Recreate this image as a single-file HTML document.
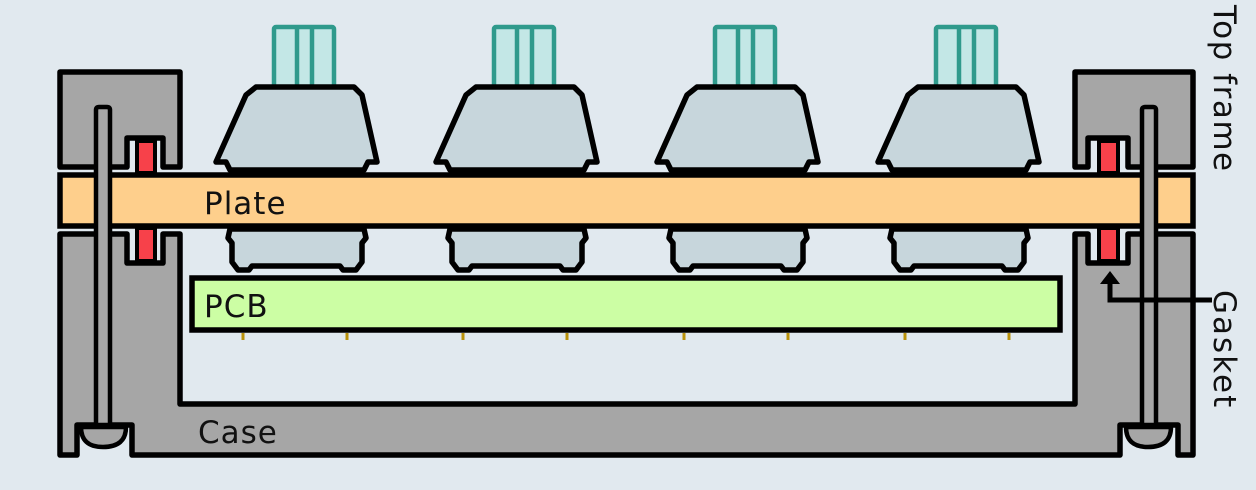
<!DOCTYPE html>
<html><head><meta charset="utf-8"><style>
html,body{margin:0;padding:0;background:#e1e9ef;}
svg{display:block}
text{font-family:"DejaVu Sans","Liberation Sans",sans-serif;fill:#111;}
</style></head><body>
<svg width="1256" height="490" viewBox="0 0 1256 490" xmlns="http://www.w3.org/2000/svg">
<rect width="1256" height="490" fill="#e1e9ef"/>
<defs>
<g id="sw">
  <rect x="274" y="27" width="60" height="62" fill="#c3e7e6" stroke="#2f9a8c" stroke-width="4.5" rx="2"/>
  <line x1="297" y1="27" x2="297" y2="88" stroke="#2f9a8c" stroke-width="4.5"/>
  <line x1="312" y1="27" x2="312" y2="88" stroke="#2f9a8c" stroke-width="4.5"/>
  <path d="M256,87 L354,87 L362,95 L377,162 L368,162 L364,170 L230,170 L226,162 L216,162 L246,95 Z" fill="#c7d6dc" stroke="#000" stroke-width="5.5" stroke-linejoin="round"/>
  <path d="M230,229 L364,229 L366,238 L362,243 L362,262 L356,270 L343,270 L340,266 L252,266 L249,270 L238,270 L232,262 L232,243 L228,238 Z" fill="#c7d6dc" stroke="#000" stroke-width="5.5" stroke-linejoin="round"/>
  <line x1="243" y1="333" x2="243" y2="340" stroke="#b8900a" stroke-width="3"/>
  <line x1="347" y1="333" x2="347" y2="340" stroke="#b8900a" stroke-width="3"/>
</g>
</defs>
<path d="M60,234 L127,234 L127,263 L163,263 L163,234 L180,234 L180,404 L1075,404 L1075,234 L1088,234 L1088,263 L1128,263 L1128,234 L1193,234 L1193,455 L1178,455 L1178,425 L1120,425 L1120,455 L132,455 L132,425 L77,425 L77,455 L60,455 Z" fill="#a6a6a6" stroke="#000" stroke-width="5.5" stroke-linejoin="round"/>
<path d="M60,72 L180,72 L180,167 L163,167 L163,138 L127,138 L127,167 L60,167 Z" fill="#a6a6a6" stroke="#000" stroke-width="5.5" stroke-linejoin="round"/>
<path d="M1075,72 L1193,72 L1193,167 L1128,167 L1128,138 L1088,138 L1088,167 L1075,167 Z" fill="#a6a6a6" stroke="#000" stroke-width="5.5" stroke-linejoin="round"/>
<rect x="137" y="141" width="18" height="32" fill="#f7414a" stroke="#000" stroke-width="4"/>
<rect x="137" y="228" width="18" height="33" fill="#f7414a" stroke="#000" stroke-width="4"/>
<rect x="1099" y="141" width="19" height="32" fill="#f7414a" stroke="#000" stroke-width="4"/>
<rect x="1099" y="228" width="19" height="33" fill="#f7414a" stroke="#000" stroke-width="4"/>
<use href="#sw"/>
<use href="#sw" x="220"/>
<use href="#sw" x="441"/>
<use href="#sw" x="662"/>
<rect x="60" y="175" width="1133" height="51" fill="#fecf8c" stroke="#000" stroke-width="5.5"/>
<rect x="192" y="278" width="868" height="52" fill="#ccfea4" stroke="#000" stroke-width="5.5"/>
<path d="M96,425 L96,110 Q96,107 99,107 L107,107 Q110,107 110,110 L110,425 Z" fill="#a6a6a6" stroke="#000" stroke-width="4.5"/>
<path d="M81,427 L126,427 Q126,447 103,447 Q81,447 81,427 Z" fill="#a6a6a6" stroke="#000" stroke-width="4.5"/>
<path d="M1142,425 L1142,110 Q1142,107 1145,107 L1153,107 Q1156,107 1156,110 L1156,425 Z" fill="#a6a6a6" stroke="#000" stroke-width="4.5"/>
<path d="M1126,427 L1171,427 Q1171,447 1148,447 Q1126,447 1126,427 Z" fill="#a6a6a6" stroke="#000" stroke-width="4.5"/>
<path d="M1212,300 L1110,300 L1110,280" fill="none" stroke="#000" stroke-width="5"/>
<path d="M1100,284 L1110,271 L1120,284 Z" fill="#000"/>
<text x="204" y="214" font-size="31" letter-spacing="1">Plate</text>
<text x="204" y="317" font-size="31" letter-spacing="1">PCB</text>
<text x="198" y="443" font-size="31" letter-spacing="1">Case</text>
<text transform="translate(1214,5) rotate(90)" font-size="31" letter-spacing="1.5">Top frame</text>
<text transform="translate(1214,290) rotate(90)" font-size="31" letter-spacing="2">Gasket</text>
</svg>
</body></html>
